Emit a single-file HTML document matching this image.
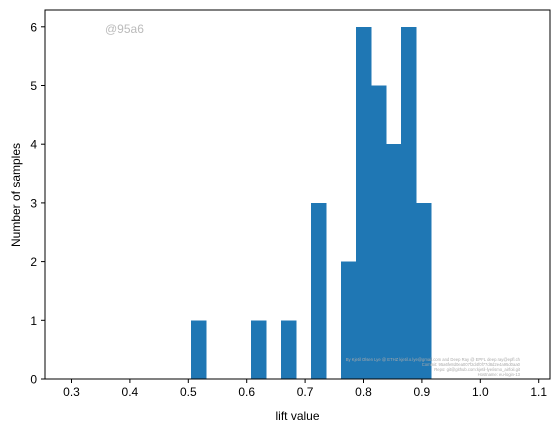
<!DOCTYPE html>
<html><head><meta charset="utf-8"><style>
body{margin:0;background:#fff;}
svg text{font-family:"Liberation Sans","DejaVu Sans",sans-serif;}
</style></head><body>
<svg id="chart" width="560" height="432" xmlns="http://www.w3.org/2000/svg">
<rect width="560" height="432" fill="#fff"/>
<text x="105" y="33" font-size="12" fill="#bbbbbb">@95a6</text>
<g id="bars" shape-rendering="crispEdges"></g>
<g id="axes"></g>
<g font-size="4.2" fill="#aaa" text-anchor="end">
<text x="520" y="361">By Kjetil Olsen Lye @ ETHZ kjetil.o.lye@gmail.com and Deep Ray @ EPFL deep.ray@epfl.ch</text>
<text x="520" y="366">Commit: 95a6fe8d0ea007f2d4f0f77d8d2e4a95d0aa0</text>
<text x="520" y="371">Repo: git@github.com:kjetil-lye/ismo_airfoil.git</text>
<text x="520" y="376">Hostname: eu-login-13</text>
</g>
</svg>
<script>
const binStart = 0.5046;
const binWidth = 0.0257;
const counts = [1,0,0,0,1,0,1,0,3,0,2,6,5,4,6,3];
const xTicks = [0.3,0.4,0.5,0.6,0.7,0.8,0.9,1.0,1.1];
const xTickLabels = ["0.3","0.4","0.5","0.6","0.7","0.8","0.9","1.0","1.1"];
const yTicks = [0,1,2,3,4,5,6];

const NS="http://www.w3.org/2000/svg";
const L=45,R=550,T=10,B=379;
const xs=v=>188.3+(v-0.5)*584;
const ys=v=>379-v*58.7;
function mk(tag,attrs,parent){const e=document.createElementNS(NS,tag);for(const k in attrs)e.setAttribute(k,attrs[k]);parent.appendChild(e);return e;}
const bars=document.getElementById('bars');
counts.forEach((c,i)=>{
  if(c<=0)return;
  const x0=xs(binStart+i*binWidth),x1=xs(binStart+(i+1)*binWidth);
  const r=mk('rect',{x:x0,y:ys(c),width:x1-x0+0.6,height:ys(0)-ys(c),fill:'#1f77b4'},bars);
  
  
});
const ax=document.getElementById('axes');
const frame=mk('rect',{x:L,y:T,width:R-L,height:B-T,fill:'none',stroke:'#000','stroke-width':1},ax);


xTicks.forEach((v,i)=>{
  const x=xs(v);
  mk('line',{x1:x,x2:x,y1:B,y2:B+4,stroke:'#000'},ax);
  const t=mk('text',{x:x,y:B+17,'font-size':12,'text-anchor':'middle',fill:'#000'},ax);
  t.textContent=xTickLabels[i];
  
  
});
yTicks.forEach(v=>{
  const y=ys(v);
  mk('line',{x1:L-4,x2:L,y1:y,y2:y,stroke:'#000'},ax);
  const t=mk('text',{x:L-8,y:y+4.5,'font-size':12,'text-anchor':'end',fill:'#000'},ax);
  t.textContent=String(v);
  
  
});
const xt=mk('text',{x:(L+R)/2,y:420,'font-size':12,'text-anchor':'middle'},ax);
xt.textContent='lift value';


const yt=mk('text',{x:0,y:0,'font-size':12,'text-anchor':'middle',transform:'translate(20,195) rotate(-90)'},ax);
yt.textContent='Number of samples';


</script>
</body></html>
